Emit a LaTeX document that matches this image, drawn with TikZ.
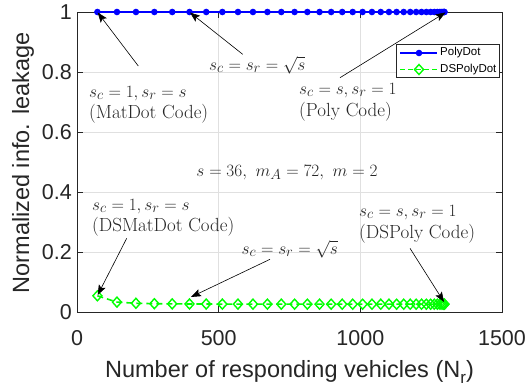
\documentclass[tikz,border=0pt]{standalone}
\usepackage{fontspec}
\newfontfamily\plotsans{Liberation Sans}
\usetikzlibrary{arrows.meta}
\definecolor{axgray}{gray}{0.15}
\definecolor{gridgray}{gray}{0.88}
\definecolor{dsgreen}{rgb}{0,1,0}
\definecolor{pdblue}{rgb}{0,0,1}
\begin{document}
\begin{tikzpicture}[x=1pt,y=-1pt,
  axisline/.style={draw=axgray,line width=0.7pt},
  gridline/.style={draw=gridgray,line width=0.6pt},
  ticklab/.style={font=\plotsans\fontsize{21.5}{24}\selectfont,text=axgray,inner sep=0pt},
  axlab/.style={font=\plotsans\fontsize{23.5}{26}\selectfont,text=axgray,inner sep=0pt},
  annot/.style={font=\fontsize{19}{22}\selectfont,text=black!85,inner sep=0pt,anchor=base west},
  arr/.style={draw=black,line width=0.6pt,-{Stealth[length=10pt,width=7.5pt,inset=2pt]}},
  pdline/.style={draw=pdblue,line width=1.6pt},
  dsline/.style={draw=dsgreen,line width=1.6pt,dash pattern=on 6pt off 4pt},
  dsmark/.style={draw=dsgreen,line width=1.4pt},
  legbox/.style={draw=axgray,fill=white,line width=0.6pt},
  legtext/.style={font=\plotsans\fontsize{11.5}{13}\selectfont,text=black,inner sep=0pt,anchor=west}
]
\useasboundingbox (0,0) rectangle (530,391);
\fill[white] (0,0) rectangle (530,391);

% data area
\begin{scope}[shift={(77,312)},x=0.283333pt,y=300pt]
  \foreach \xv in {500,1000} \draw[gridline] (\xv,0) -- (\xv,1);
  \foreach \yv in {0.2,0.4,0.6,0.8} \draw[gridline] (0,\yv) -- (1500,\yv);
\end{scope}

% axes box and ticks
\draw[axisline] (77,12) rectangle (502,312);
\foreach \yv in {0,0.2,0.4,0.6,0.8,1} {
  \draw[axisline] (77,{312-300*\yv}) -- (83,{312-300*\yv});
  \draw[axisline] (502,{312-300*\yv}) -- (496,{312-300*\yv});
}
\foreach \xv in {0,500,1000,1500} {
  \draw[axisline] ({77+\xv*0.283333},312) -- ({77+\xv*0.283333},306);
  \draw[axisline] ({77+\xv*0.283333},12) -- ({77+\xv*0.283333},18);
}

% tick labels
\node[ticklab,anchor=east] (yt0) at (72,312) {0};
\node[ticklab,anchor=east] (yt2) at (72,252) {0.2};
\node[ticklab,anchor=east] (yt4) at (72,192) {0.4};
\node[ticklab,anchor=east] (yt6) at (72,132) {0.6};
\node[ticklab,anchor=east] (yt8) at (72,72) {0.8};
\node[ticklab,anchor=east] (yt10) at (72,12) {1};
\node[ticklab,anchor=base] (xt0) at (77,345) {0};
\node[ticklab,anchor=base] (xt500) at (218.7,345) {500};
\node[ticklab,anchor=base] (xt1000) at (360.3,345) {1000};
\node[ticklab,anchor=base] (xt1500) at (502,345) {1500};

% axis labels
\node[axlab,rotate=90] (ylab) at (23,163) {Normalized info. leakage};
\node[axlab,anchor=base] (xlab) at (289.5,377) {Number of responding vehicles (N\raisebox{-6pt}{\fontsize{17}{18}\selectfont r})};

% curves
\begin{scope}[shift={(77,312)},x=0.283333pt,y=300pt]
  \draw[pdline] (72,1) \foreach \k in {2,...,36} { -- ({\k*(72-\k)+1},1) };
  \foreach \k in {1,...,36} \fill[pdblue] ({\k*(72-\k)+1},1) circle[radius=3.3pt];
  \draw[dsline] (72,0.054) \foreach \k in {2,...,36} { -- ({\k*(72-\k)+1},{0.026+0.028/(\k*\k)}) };
  \foreach \k in {1,...,36}
    \draw[dsmark] ({\k*(72-\k)+1},{0.026+0.028/(\k*\k)}) +(0pt,5pt) -- +(4.5pt,0pt) -- +(0pt,-5pt) -- +(-4.5pt,0pt) -- cycle;
\end{scope}

% legend
\draw[legbox] (396,44.5) rectangle (499,77);
\coordinate (lp1) at (400,53); \coordinate (lp2) at (437,53);
\draw[pdline] (lp1) -- (lp2);
\fill[pdblue] (419,53) circle[radius=3.3pt];
\node[legtext] (legpd) at (440,53) {PolyDot};
\coordinate (ld1) at (400,69.5); \coordinate (ld2) at (437,69.5);
\draw[dsline,dash pattern=on 5pt off 3pt] (ld1) -- (ld2);
\draw[dsmark] (419,69.5) +(0pt,5pt) -- +(4.5pt,0pt) -- +(0pt,-5pt) -- +(-4.5pt,0pt) -- cycle;
\node[legtext] (legds) at (440,69.5) {DSPolyDot};

% annotations (PolyDot)
\node[annot] (t1a) at (89,97) {$s_c=1,s_r=s$};
\node[annot] (t1b) at (89,118) {(MatDot Code)};
\node[annot] (t2) at (209,70) {$s_c=s_r=\sqrt{s}$};
\node[annot] (t3a) at (299,94) {$s_c=s,s_r=1$};
\node[annot] (t3b) at (299,116) {(Poly Code)};
\node[annot,anchor=base] (tmid) at (287,176) {$s=36,\ m_A=72,\ m=2$};
% annotations (DSPolyDot)
\node[annot] (t4a) at (92,210) {$s_c=1,s_r=s$};
\node[annot] (t4b) at (92,231) {(DSMatDot Code)};
\node[annot] (t5) at (241.5,254) {$s_c=s_r=\sqrt{s}$};
\node[annot] (t6a) at (359,216) {$s_c=s,s_r=1$};
\node[annot] (t6b) at (359,238) {(DSPoly Code)};

% arrows
\coordinate (a1s) at (138.3,66);  \coordinate (a1e) at (97.7,12.5);
\coordinate (a2s) at (242.7,54.3); \coordinate (a2e) at (190,12.5);
\coordinate (a3s) at (340,77.7);  \coordinate (a3e) at (445.5,12.5);
\coordinate (a4s) at (126.7,238.3); \coordinate (a4e) at (97.7,295);
\coordinate (a5s) at (270,259.3); \coordinate (a5e) at (191,297);
\coordinate (a6s) at (410,248.3); \coordinate (a6e) at (444,302);
\draw[arr] (a1s) -- (a1e);
\draw[arr] (a2s) -- (a2e);
\draw[arr] (a3s) -- (a3e);
\draw[arr] (a4s) -- (a4e);
\draw[arr] (a5s) -- (a5e);
\draw[arr] (a6s) -- (a6e);
\end{tikzpicture}
\end{document}
